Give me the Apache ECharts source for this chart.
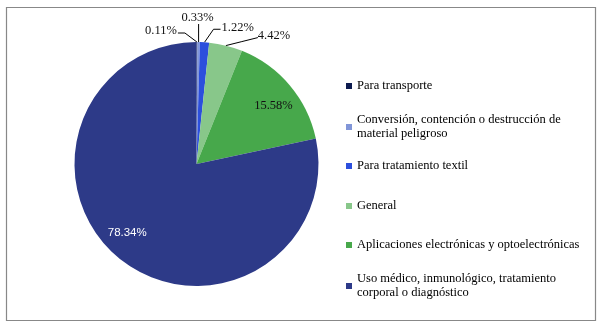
<!DOCTYPE html>
<html>
<head>
<meta charset="utf-8">
<script src="https://cdn.jsdelivr.net/npm/echarts@6/dist/echarts.min.js"></script>
<style>
  html, body { margin: 0; padding: 0; background: #fff; }
  #chart { width: 604px; height: 333px; }
</style>
</head>
<body>
<div id="chart"></div>
<script>
// 数据
var categories = [
    'Para transporte',
    'Conversión, contención o destrucción de\nmaterial peligroso',
    'Para tratamiento textil',
    'General',
    'Aplicaciones electrónicas y optoelectrónicas',
    'Uso médico, inmunológico, tratamiento\ncorporal o diagnóstico'
];
var shares = [0.11, 0.33, 1.22, 4.42, 15.58, 78.34];
var colors = ['#0d1b4f', '#8196d8', '#2c4fdd', '#88c78a', '#47a84b', '#2d3a88'];

// 图例每项第一行的位置
var legendRows = [86, 127, 166, 206, 245, 286];

// 外部标签引导线（相对扇区边缘点的偏移）
var outerLines = {
    0: { bend: [-12, -9], end: [-19, -9], align: 'right', dx: -1, dy: -2 },
    1: { bend: [0, -9], end: [0, -18], align: 'center', dx: -1, dy: -6 },
    2: { bend: [9, -13], end: [16, -13], align: 'left', dx: 1, dy: -2 },
    3: { bend: [16, -4], end: [32, -8], align: 'left', dx: 0, dy: -2 }
};

var myChart = echarts.init(document.getElementById('chart'));

var legends = categories.map(function(name, i) {
    var twoLine = name.indexOf('\n') >= 0;
    return {
        data: [name],
        orient: 'vertical',
        left: 346,
        top: twoLine ? legendRows[i] - 21 : legendRows[i] - 7,
        padding: 0,
        icon: 'rect',
        itemWidth: 6,
        itemHeight: 6,
        selectedMode: false,
        textStyle: {
            fontFamily: 'Liberation Serif',
            fontSize: 12.5,
            color: '#000',
            lineHeight: 14,
            padding: twoLine ? [14, 0, 0, 0] : 0
        }
    };
});

var option = {
    animation: false,
    color: colors,
    legend: legends,
    graphic: [{
        type: 'rect',
        shape: { x: 6.5, y: 7.5, width: 589, height: 313 },
        style: { fill: 'none', stroke: '#888', lineWidth: 1.2 }
    }],
    series: [{
        type: 'pie',
        center: [196.5, 164],
        radius: 122,
        startAngle: 90,
        clockwise: true,
        avoidLabelOverlap: false,
        label: {
            position: 'outside',
            fontFamily: 'Liberation Serif',
            fontSize: 12.5,
            color: '#111',
            formatter: function(p) { return p.value.toFixed(2) + '%'; }
        },
        labelLine: {
            show: true,
            length: 8,
            length2: 6,
            lineStyle: { color: '#000', width: 1 }
        },
        labelLayout: function(p) {
            var cfg = outerLines[p.dataIndex];
            var pts = p.labelLinePoints;
            if (!cfg || !pts) return {};
            var s = pts[0];
            var b = [s[0] + cfg.bend[0], s[1] + cfg.bend[1]];
            var e = [s[0] + cfg.end[0], s[1] + cfg.end[1]];
            return {
                x: e[0] + cfg.dx,
                y: e[1] + cfg.dy,
                align: cfg.align,
                verticalAlign: 'middle',
                labelLinePoints: [s, b, e]
            };
        },
        data: categories.map(function(name, i) {
            var item = { name: name, value: shares[i] };
            if (i === 4) {
                item.label = { position: 'inside', color: '#111', offset: [28, -17] };
                item.labelLine = { show: false };
            } else if (i === 5) {
                item.label = { position: 'inside', color: '#fff', fontFamily: 'Liberation Sans', fontSize: 11.5, offset: [-29, 19] };
                item.labelLine = { show: false };
            }
            return item;
        })
    }]
};

myChart.setOption(option);
</script>
</body>
</html>
